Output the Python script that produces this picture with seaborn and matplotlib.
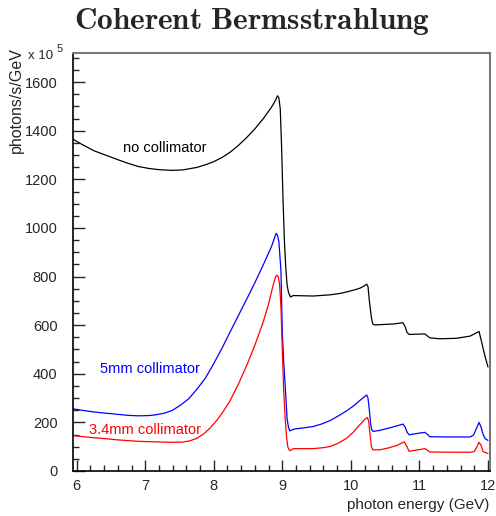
import numpy as np
import pandas as pd
import matplotlib
matplotlib.use("Agg")
import matplotlib.pyplot as plt
from matplotlib.ticker import MultipleLocator
import seaborn as sns

# Photon spectra (units of 1e5 photons/s/GeV) versus photon energy (GeV)
energy_nocoll = [5.95, 6.05, 6.15, 6.25, 6.42, 6.60, 6.75, 6.90, 7.05, 7.20,
                 7.39, 7.55, 7.75, 7.90, 8.00, 8.12, 8.24, 8.36, 8.48, 8.60,
                 8.72, 8.84, 8.90, 8.93, 8.95, 8.97, 8.99, 9.01, 9.03, 9.05,
                 9.07, 9.09, 9.12, 9.16, 9.30, 9.45, 9.70, 9.85, 9.94, 10.05,
                 10.13, 10.20, 10.23, 10.25, 10.27, 10.30, 10.32, 10.35, 10.62, 10.76,
                 10.79, 10.82, 10.85, 11.08, 11.12, 11.15, 11.30, 11.54, 11.74, 11.87,
                 11.90, 11.95, 12.00]
rate_nocoll = [1365, 1348, 1333, 1318, 1300, 1281, 1266, 1253, 1245, 1240,
               1237, 1239, 1249, 1262, 1273, 1290, 1312, 1340, 1372, 1408,
               1449, 1496, 1525, 1544, 1535, 1490, 1330, 1120, 950, 840,
               765, 735, 716, 722, 721, 720, 725, 731, 737, 745,
               752, 762, 769, 759, 700, 630, 605, 601, 605, 610,
               595, 570, 562, 564, 555, 548, 544, 546, 555, 574,
               540, 480, 428]

energy_5mm = [5.94, 6.10, 6.25, 6.42, 6.60, 6.75, 6.90, 7.05, 7.15, 7.28,
              7.39, 7.50, 7.63, 7.75, 7.88, 7.99, 8.12, 8.24, 8.36, 8.48,
              8.60, 8.72, 8.84, 8.89, 8.91, 8.93, 8.95, 8.98, 9.00, 9.02,
              9.04, 9.07, 9.09, 9.11, 9.13, 9.18, 9.30, 9.45, 9.58, 9.70,
              9.82, 9.94, 10.04, 10.13, 10.20, 10.23, 10.25, 10.27, 10.29, 10.31,
              10.33, 10.42, 10.60, 10.76, 10.79, 10.82, 10.85, 11.00, 11.08, 11.12,
              11.15, 11.40, 11.74, 11.79, 11.84, 11.87, 11.90, 11.93, 11.96, 12.00]
rate_5mm = [256, 249, 243, 238, 233, 229, 227, 228, 231, 238,
            249, 268, 296, 335, 383, 437, 505, 573, 640, 707,
            775, 847, 922, 962, 978, 970, 944, 825, 570, 450,
            360, 215, 180, 165, 168, 173, 177, 183, 194, 208,
            227, 248, 268, 290, 306, 313, 300, 250, 190, 166,
            163, 167, 180, 193, 182, 160, 149, 156, 159, 150,
            141, 140, 140, 148, 180, 200, 180, 150, 133, 126]

energy_34mm = [5.94, 6.10, 6.25, 6.42, 6.60, 6.75, 6.90, 7.15, 7.39, 7.55,
               7.65, 7.75, 7.85, 7.95, 8.05, 8.15, 8.24, 8.36, 8.48, 8.60,
               8.72, 8.80, 8.86, 8.90, 8.92, 8.94, 8.96, 8.98, 9.00, 9.02,
               9.04, 9.06, 9.08, 9.10, 9.12, 9.16, 9.45, 9.60, 9.70, 9.82,
               9.94, 10.04, 10.13, 10.20, 10.24, 10.26, 10.28, 10.30, 10.32, 10.42,
               10.55, 10.67, 10.78, 10.81, 10.85, 11.00, 11.08, 11.12, 11.15, 11.74,
               11.80, 11.84, 11.87, 11.90, 11.93, 12.00]
rate_34mm = [146, 141, 137, 133, 128, 125, 122, 120, 118, 119,
             124, 134, 152, 178, 210, 250, 290, 358, 434, 518,
             612, 688, 758, 797, 806, 800, 770, 675, 500, 330,
             225, 145, 100, 86, 84, 92, 92, 96, 101, 115,
             135, 161, 190, 212, 220, 205, 150, 100, 87, 87,
             95, 105, 120, 105, 81, 88, 92, 85, 78, 77,
             80, 100, 118, 105, 80, 72]

series_names = ["no collimator", "5mm collimator", "3.4mm collimator"]
series_colors = ["black", "blue", "red"]

df = pd.concat([
    pd.DataFrame({"energy": energy_nocoll, "rate": rate_nocoll, "series": series_names[0]}),
    pd.DataFrame({"energy": energy_5mm, "rate": rate_5mm, "series": series_names[1]}),
    pd.DataFrame({"energy": energy_34mm, "rate": rate_34mm, "series": series_names[2]}),
], ignore_index=True)

sns.set_style("white")
plt.rcParams["font.family"] = ["Liberation Sans", "DejaVu Sans"]
plt.rcParams["mathtext.fontset"] = "cm"

W, H = 496, 516
fig = plt.figure(figsize=(W / 100, H / 100), dpi=100)
ax = fig.add_axes([72.7 / W, 1 - 471 / H, (490 - 72.7) / W, (471 - 53) / H])

for name, color in zip(series_names, series_colors):
    sns.lineplot(data=df[df["series"] == name], x="energy", y="rate",
                 color=color, linewidth=0.9, sort=False, estimator=None,
                 ax=ax, legend=False)

ax.set_xlim(5.942, 12.03)
ax.set_ylim(0, 1720)
ax.set_xlabel("")
ax.set_ylabel("")

ax.xaxis.set_major_locator(MultipleLocator(1))
ax.xaxis.set_minor_locator(MultipleLocator(0.2))
ax.yaxis.set_major_locator(MultipleLocator(200))
ax.yaxis.set_minor_locator(MultipleLocator(50))
ax.tick_params(axis="x", which="major", direction="in", length=8, width=1,
               labelsize=10.5, pad=6, top=False, bottom=True)
ax.tick_params(axis="x", which="minor", direction="in", length=4, width=1,
               top=False, bottom=True)
ax.tick_params(axis="y", which="major", direction="in", length=8.5, width=1,
               labelsize=10.5, pad=11, right=False, left=True)
ax.tick_params(axis="y", which="minor", direction="in", length=4.3, width=1,
               right=False, left=True)

for side in ("left", "bottom"):
    ax.spines[side].set_color("black")
    ax.spines[side].set_linewidth(1.2)
for side in ("top", "right"):
    ax.spines[side].set_color("#777777")
    ax.spines[side].set_linewidth(1.5)

# Curve labels
ax.text(7.29, 1330, "no collimator", color="black", fontsize=10.5,
        ha="center", va="center")
ax.text(7.07, 421, "5mm collimator", color="blue", fontsize=10.5,
        ha="center", va="center")
ax.text(6.99, 170, "3.4mm collimator", color="red", fontsize=10.5,
        ha="center", va="center")

# Title and axis annotations
fig.text(252 / W, 1 - 29 / H, r"$\mathbf{Coherent\ Bermsstrahlung}$",
         fontsize=22.5, ha="center", va="baseline")
fig.text(489 / W, 1 - 509 / H, "photon energy (GeV)", fontsize=11,
         ha="right", va="baseline")
fig.text(16 / W, 1 - 47 / H, "photons/s/GeV", fontsize=11.5,
         rotation=90, ha="center", va="top")
fig.text(28 / W, 1 - 56 / H, "x 10", fontsize=9.5, ha="left", va="center")
fig.text(57 / W, 1 - 49 / H, "5", fontsize=8, ha="left", va="center")

fig.savefig("out.png", dpi=100)
